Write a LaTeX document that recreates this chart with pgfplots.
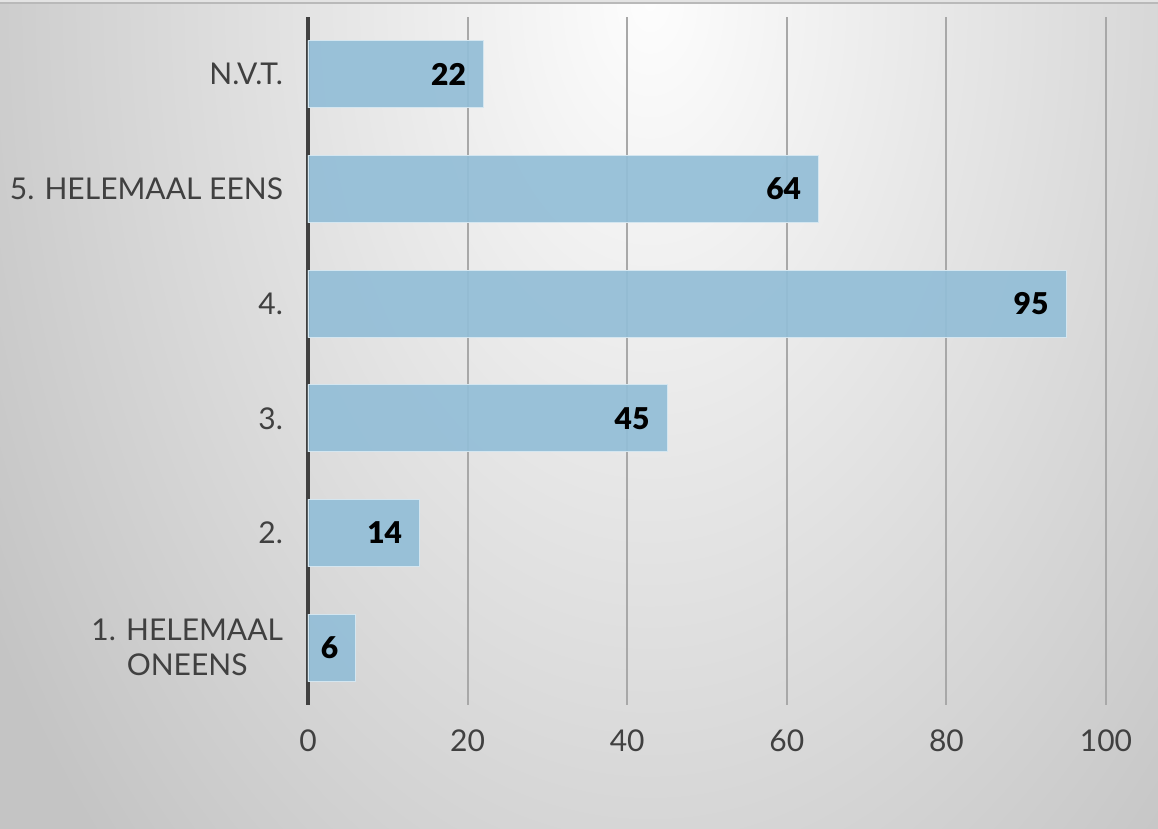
\documentclass[border=0pt]{standalone}
\usepackage{pgfplots}
\pgfplotsset{compat=1.18}
\usepackage{fontspec}
\setmainfont{Lato}
\IfFontExistsTF{Lato Black}{\newfontfamily\numfont{Lato Black}}{\newcommand\numfont{\bfseries}}

\definecolor{barfill}{HTML}{93BED7}
\definecolor{baredge}{HTML}{D4E6F0}
\definecolor{gridgray}{HTML}{A8A8A8}
\definecolor{axisgray}{HTML}{404040}
\definecolor{labelgray}{HTML}{404040}
\definecolor{bgin}{HTML}{FDFDFD}
\definecolor{bgout}{HTML}{C4C4C4}

% radiale Schattierung: TikZ bildet 25bp auf den Pfadrand ab
\pgfdeclareradialshading{bgshade}{\pgfpoint{0bp}{0bp}}{%
  color(0bp)=(bgin); color(25bp)=(bgout); color(50bp)=(bgout)}

\begin{document}
\begin{tikzpicture}
% 1 px = 0.5 pt, Bild 1158 x 829 px
\useasboundingbox (0,0) rectangle (579pt,414.5pt);
\begin{scope}
  \clip (0,0) rectangle (579pt,414.5pt);
  \fill[bgout] (0,0) rectangle (579pt,414.5pt);
  \shade[shading=bgshade] (325pt,414.5pt) ellipse (385pt and 606pt);
\end{scope}
\fill[gray!22] (0,413.5pt) rectangle (579pt,414.5pt);
\draw[gray!55, line width=1pt] (0,413pt) -- (579pt,413pt);

\begin{axis}[
  at={(154pt,62pt)}, anchor=south west,
  scale only axis, width=399pt, height=344pt,
  xbar, bar width=0.585,
  xmin=0, xmax=100, ymin=-0.5, ymax=5.5,
  xtick={0,20,...,100},
  ytick={0,...,5},
  yticklabels={{1. HELEMAAL\\ONEENS},2.,3.,4.,{5. HELEMAAL EENS},N.V.T.},
  axis lines*=left,
  axis line style={-},
  x axis line style={draw=none},
  y axis line style={draw=axisgray, line width=2pt},
  xmajorgrids,
  grid style={draw=gridgray, line width=1pt},
  major tick length=0pt,
  tick style={draw=none},
  ticklabel style={font=\fontsize{15}{17.5}\selectfont, text=labelgray},
  /pgf/number format/assume math mode=true,
  xticklabel style={yshift=-9pt},
  yticklabel style={align=center, xshift=-9pt},
]
\addplot[
  fill=barfill, fill opacity=0.92, draw=baredge, line width=0.6pt,
  nodes near coords,
  nodes near coords style={anchor=east, inner sep=0pt, xshift=-8.5pt,
    font=\fontsize{15}{17}\selectfont\numfont, text=black, text opacity=1},
] coordinates {
  (6,0) (14,1) (45,2) (95,3) (64,4) (22,5)
};
\end{axis}
\end{tikzpicture}
\end{document}
